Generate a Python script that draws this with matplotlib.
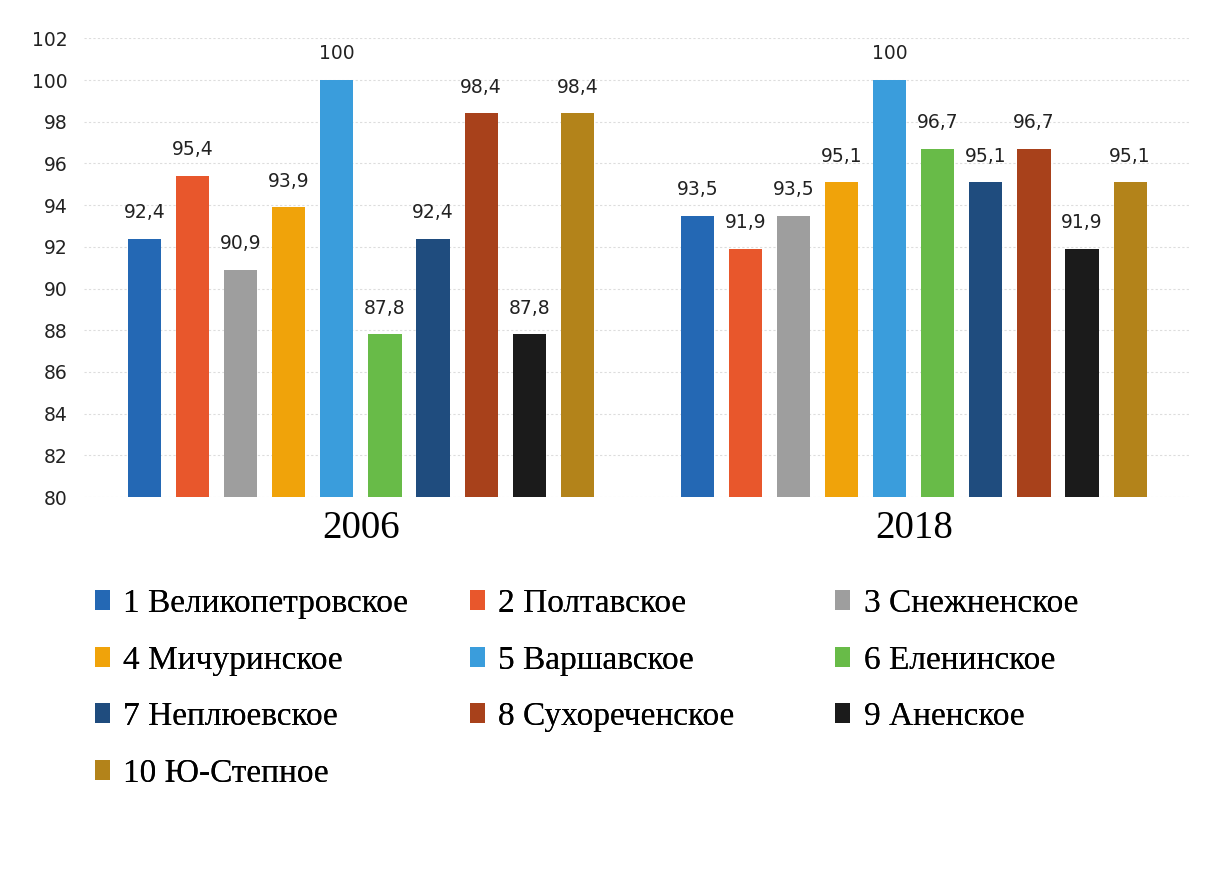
import matplotlib.pyplot as plt
import numpy as np

years = ["2006", "2018"]
districts = [
    "1 Великопетровское", "2 Полтавское", "3 Снежненское",
    "4 Мичуринское", "5 Варшавское", "6 Еленинское",
    "7 Неплюевское", "8 Сухореченское", "9 Аненское",
    "10 Ю-Степное",
]
values_2006 = [92.4, 95.4, 90.9, 93.9, 100, 87.8, 92.4, 98.4, 87.8, 98.4]
values_2018 = [93.5, 91.9, 93.5, 95.1, 100, 96.7, 95.1, 96.7, 91.9, 95.1]

colors = ["#2468b4", "#e8572c", "#9e9e9e", "#f0a30a", "#3a9ddc",
          "#68bb48", "#1f4c7e", "#a8411b", "#1b1b1b", "#b3831a"]

fig = plt.figure(figsize=(12.07, 8.72), dpi=100)
ax = fig.add_axes([0.070, 0.430, 0.916, 0.526])

x = np.arange(len(years))
width = 0.06
step = 0.087
offsets = (np.arange(len(districts)) - (len(districts) - 1) / 2) * step

bars = []
for i, name in enumerate(districts):
    vals = [values_2006[i], values_2018[i]]
    b = ax.bar(x + offsets[i], np.array(vals) - 80, width, bottom=80,
               color=colors[i], label=name)
    bars.append(b)
    for rect, v in zip(b, vals):
        ax.annotate(f"{v:g}".replace(".", ","),
                    (rect.get_x() + rect.get_width() / 2, v),
                    xytext=(0, 12), textcoords="offset points",
                    ha="center", va="bottom", fontsize=13.5,
                    family="DejaVu Sans", color="#222222")

ax.set_ylim(80, 102)
ax.set_yticks(np.arange(80, 103, 2))
ax.set_xlim(-0.5, 1.5)
ax.set_xticks(x)
ax.set_xticklabels(years, family="Liberation Serif", fontsize=28)
ax.tick_params(axis="x", length=0, pad=9)
ax.tick_params(axis="y", length=0, labelsize=13.5, pad=12, labelcolor="#222222")
for s in ax.spines.values():
    s.set_visible(False)
ax.grid(axis="y", color="#dddddd", linewidth=0.8, linestyle=(0, (2, 2)))
ax.set_axisbelow(True)

# legend laid out as three separate columns, filled row by row
col_x = [0.0787, 0.389, 0.692]
for c in range(3):
    idx = list(range(c, len(districts), 3))
    leg = fig.legend([bars[i] for i in idx], [districts[i] for i in idx],
                     loc="upper left", bbox_to_anchor=(col_x[c], 0.325),
                     frameon=False, borderpad=0, borderaxespad=0,
                     handlelength=0.45, handleheight=0.55,
                     handletextpad=0.4, labelspacing=0.78,
                     prop={"family": "Liberation Serif", "size": 24})
    fig.add_artist(leg)

fig.savefig("out.png", dpi=100)
